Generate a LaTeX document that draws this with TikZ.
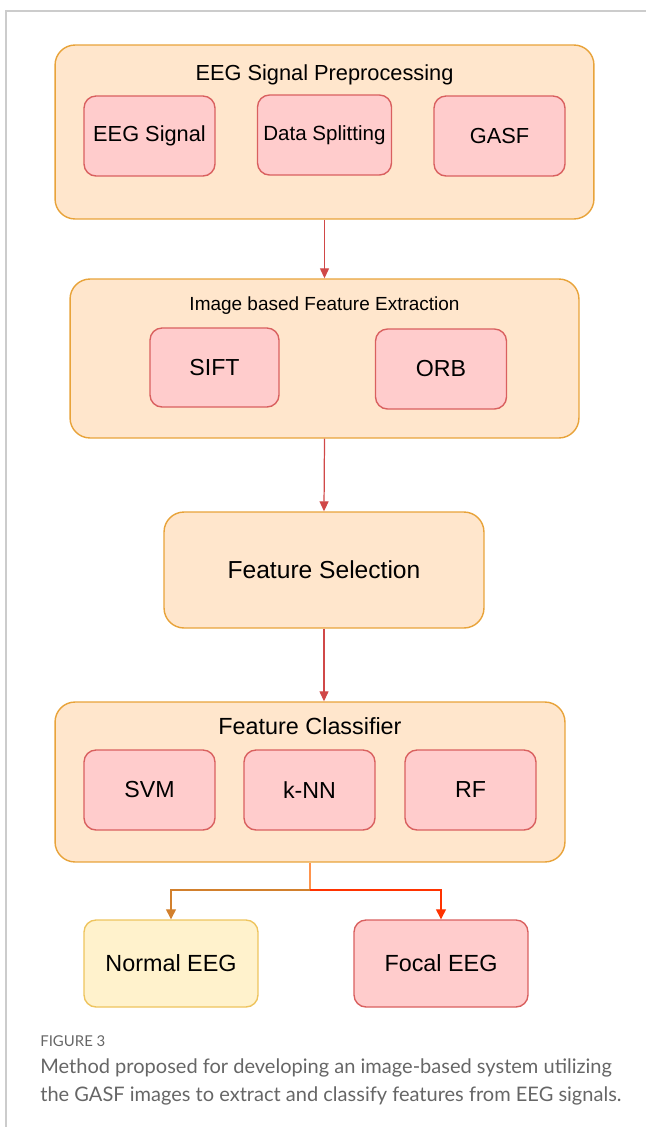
\documentclass[tikz,border=0pt]{standalone}
\usepackage{fontspec}
\setmainfont{Liberation Sans}
\newfontfamily\capfont{Lato}
\usetikzlibrary{arrows.meta}
\definecolor{stageFill}{HTML}{FFE6CC}
\definecolor{stageLine}{HTML}{E8A33A}
\definecolor{partFill}{HTML}{FFCCCC}
\definecolor{partLine}{HTML}{D9605F}
\definecolor{normFill}{HTML}{FFF2CC}
\definecolor{normLine}{HTML}{EEC45E}
\definecolor{flowRed}{HTML}{D04848}
\definecolor{capGray}{HTML}{666666}
\begin{document}
\begin{tikzpicture}[x=0.02cm, y=-0.02cm,
    stage/.style={draw=stageLine, fill=stageFill, line width=0.8pt, rounded corners=0.4cm},
    part/.style={draw=partLine, fill=partFill, line width=0.8pt, rounded corners=0.24cm,
        minimum width=2.62cm, minimum height=1.6cm, font=\fontsize{13.2}{15}\selectfont},
    outcome/.style={line width=0.8pt, rounded corners=0.24cm,
        minimum width=3.48cm, minimum height=1.74cm, font=\fontsize{13.3}{15}\selectfont},
    flow/.style={draw=flowRed, line width=0.7pt, -{Triangle[length=0.2cm, width=0.18cm]}}]
    \useasboundingbox (0,0) rectangle (646,1127);

    % Frame of the figure panel
    \draw[gray!40, line width=0.8pt] (646,11) -- (6,11) -- (6,1127);

    % EEG signal preprocessing
    \node[stage, minimum width=10.78cm, minimum height=3.48cm] (pre) at (324.5,132) {};
    \node[font=\fontsize{12.4}{14}\selectfont] (preT) at (324.5,75) {EEG Signal Preprocessing};
    \node[part, font=\fontsize{12.4}{14}\selectfont] (eeg) at (149.5,136) {EEG Signal};
    \node[part, font=\fontsize{11.7}{13}\selectfont] (split) at (324.5,135) {Data Splitting};
    \node[part, font=\fontsize{12.4}{14}\selectfont] (gasf) at (499.5,136) {GASF};

    % Image based feature extraction
    \node[stage, minimum width=10.18cm, minimum height=3.18cm] (ext) at (324.5,358.5) {};
    \node[font=\fontsize{10.8}{12}\selectfont] (extT) at (324.5,306) {Image based Feature Extraction};
    \node[part, minimum width=2.58cm, minimum height=1.58cm] (sift) at (214.5,367.5) {SIFT};
    \node[part] (orb) at (441,369) {ORB};

    % Feature selection
    \node[stage, minimum width=6.4cm, minimum height=2.32cm, font=\fontsize{14}{16}\selectfont] (sel) at (324,570) {Feature Selection};

    % Feature classifier
    \node[stage, minimum width=10.2cm, minimum height=3.2cm] (cls) at (310,782) {};
    \node[font=\fontsize{13.3}{15}\selectfont] (clsT) at (310,726) {Feature Classifier};
    \node[part] (svm) at (149.5,790) {SVM};
    \node[part] (knn) at (309.5,790) {k-NN};
    \node[part] (rf) at (470.5,790) {RF};

    % Outcomes
    \node[outcome, draw=normLine, fill=normFill] (normal) at (171,963.5) {Normal EEG};
    \node[outcome, draw=partLine, fill=partFill] (focal) at (441,963.5) {Focal EEG};

    % Connectors
    \draw[flow] (pre.south) -- (ext.north);
    \draw[flow] (ext.south) -- (sel.north);
    \draw[flow] (sel.south) -- (sel.south |- cls.north);
    \coordinate (fork) at (310,890);
    \draw[line width=0.7pt, draw=orange!80!red!70] (cls.south) -- (fork);
    \draw[line width=0.7pt, -{Triangle[length=0.2cm, width=0.2cm]}, color=brown!70!orange] (fork) -| (normal.north);
    \draw[line width=0.7pt, -{Triangle[length=0.2cm, width=0.2cm]}, color=red!60!orange] (fork) -| (focal.north);

    % Caption
    \node[anchor=west, inner sep=0pt, text=capGray, font=\capfont\fontsize{8.5}{10}\selectfont] (figno) at (40,1041) {FIGURE 3};
    \node[anchor=north west, inner sep=0pt, text=capGray, align=left,
        font=\capfont\fontsize{11.4}{15.9}\selectfont] (cap) at (40,1058)
        {Method proposed for developing an image-based system utilizing\\
         the GASF images to extract and classify features from EEG signals.};
\end{tikzpicture}
\end{document}
